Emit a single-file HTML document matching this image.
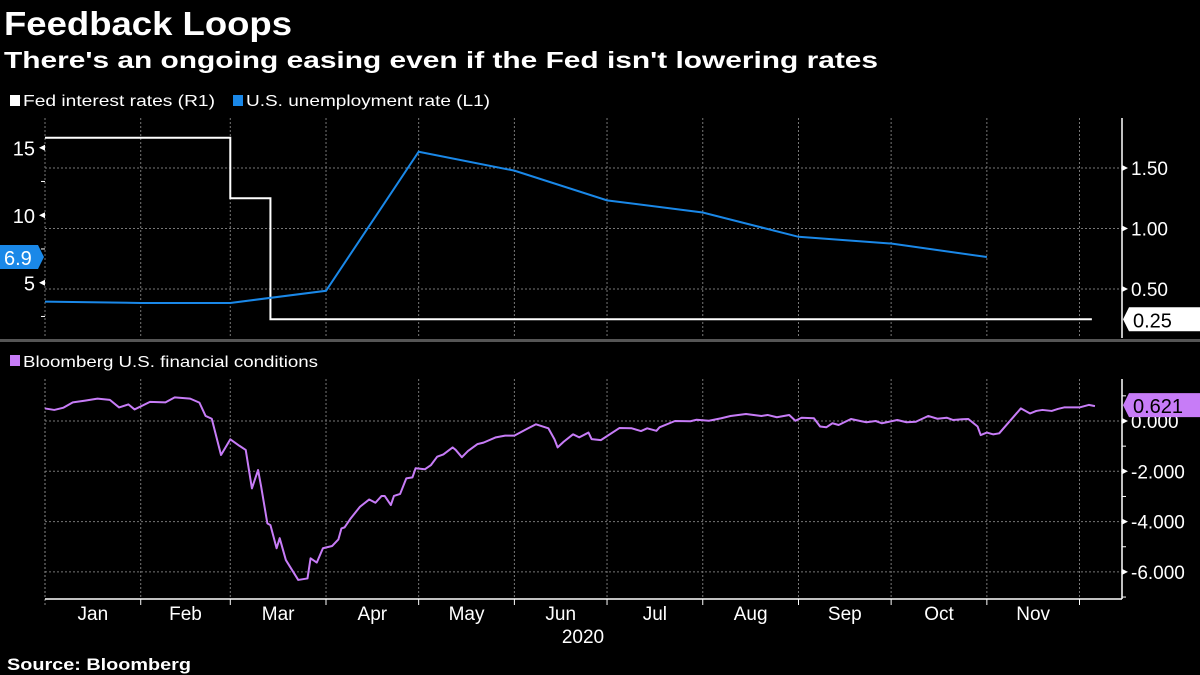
<!DOCTYPE html>
<html><head><meta charset="utf-8"><style>
html,body{margin:0;padding:0;background:#000;width:1200px;height:675px;overflow:hidden}
svg{display:block;font-family:"Liberation Sans",sans-serif}
</style></head><body>
<svg id="c" width="1200" height="675" viewBox="0 0 1200 675">
<text x="4" y="35" fill="#fff" font-size="33" font-weight="bold" textLength="288" lengthAdjust="spacingAndGlyphs">Feedback Loops</text>
<text x="4" y="68" fill="#fff" font-size="23" font-weight="bold" textLength="874" lengthAdjust="spacingAndGlyphs">There's an ongoing easing even if the Fed isn't lowering rates</text>
<rect x="10" y="95" width="10" height="11" fill="#fff"/>
<text x="23" y="106" fill="#fff" font-size="16" textLength="192" lengthAdjust="spacingAndGlyphs">Fed interest rates (R1)</text>
<rect x="233" y="95" width="10" height="11" fill="#1a88e8"/>
<text x="246" y="106" fill="#fff" font-size="16" textLength="244" lengthAdjust="spacingAndGlyphs">U.S. unemployment rate (L1)</text>
<rect x="10" y="355" width="10" height="11" fill="#c77cf7"/>
<text x="23" y="367" fill="#fff" font-size="16" textLength="295" lengthAdjust="spacingAndGlyphs">Bloomberg U.S. financial conditions</text>
<rect x="0" y="339" width="1200" height="3" fill="#555"/>
<text x="7" y="670" fill="#fff" font-size="17" font-weight="bold" textLength="184" lengthAdjust="spacingAndGlyphs">Source: Bloomberg</text>
<g id="g"></g>
</svg>
<script>
// Data
const months=["Jan","Feb","Mar","Apr","May","Jun","Jul","Aug","Sep","Oct","Nov"];
const monthStartDays=[0,31,60,91,121,152,182,213,244,274,305,335];
const fedDays=[0,60,60,73,73,339];
const fedValues=[1.75,1.75,1.25,1.25,0.25,0.25];
const unempDays=[0,31,60,91,121,152,182,213,244,274,305];
const unempValues=[3.6,3.5,3.5,4.4,14.7,13.3,11.1,10.2,8.4,7.9,6.9];
const fciDays=[0,3,6,9,13,17,21,24,27,29,34,39,42,47,50,52,54,57,60,63,65,67,69,70,72,73,75,76,78,82,85,86,88,90,93,95,96,97,99,102,105,107,109,110,112,113,115,117,119,120,123,125,127,129,132,133,135,137,140,142,146,149,152,156,159,163,165,166,168,171,173,176,177,
180,186,190,193,195,198,199,204,209,211,215,219,222,227,232,234,237,241,243,245,249,251,253,255,257,261,264,266,269,271,276,279,282,286,289,292,294,297,299,302,303,305,307,309,316,319,321,323,326,328,330,335,338,340];
const fciValues=[0.50,0.44,0.53,0.74,0.81,0.89,0.84,0.54,0.66,0.46,0.76,0.74,0.94,0.89,0.73,0.20,0.09,-1.35,-0.73,-0.99,-1.15,-2.68,-1.95,-2.61,-4.07,-4.14,-5.06,-4.66,-5.53,-6.32,-6.26,-5.46,-5.63,-5.06,-4.97,-4.71,-4.27,-4.23,-3.87,-3.41,-3.12,-3.25,-2.98,-2.98,-3.34,-2.98,-2.90,-2.28,-2.24,-1.88,-1.92,-1.75,-1.42,-1.33,-1.05,-1.15,-1.44,-1.19,-0.92,-0.86,-0.65,-0.58,-0.58,-0.32,-0.13,-0.29,-0.73,-1.05,-0.82,-0.53,-0.65,-0.46,-0.72,
-0.76,-0.28,-0.29,-0.40,-0.29,-0.39,-0.25,0.00,-0.01,0.05,0.01,0.11,0.20,0.28,0.20,0.24,0.15,0.24,0.01,0.13,0.11,-0.22,-0.25,-0.09,-0.16,0.08,0.00,-0.05,0.00,-0.09,0.04,-0.05,-0.03,0.20,0.09,0.13,0.04,0.07,0.08,-0.22,-0.56,-0.46,-0.53,-0.49,0.50,0.30,0.40,0.44,0.40,0.48,0.54,0.54,0.64,0.59];
const leftTicks=[5,10,15];
const rightTicks=[0.5,1.0,1.5];
const fciTicks=[0,-2,-4,-6];
const fciTickLabels=["0.000","-2.000","-4.000","-6.000"];
const lastUnemp="6.9", lastFed="0.25", lastFci="0.621";

// Axes
const X=d=>45+d*(1034.5/335);
const YL=v=>282.7-(v-5)*13.5;
const YR=v=>289-(v-0.5)*121;
const YB=v=>421-v*25.15;
const NS="http://www.w3.org/2000/svg";
const g=document.getElementById('g');
function mk(t,a,p){const e=document.createElementNS(NS,t);for(const k in a)e.setAttribute(k,a[k]);(p||g).appendChild(e);return e;}
monthStartDays.forEach((d,i)=>{
 if(i===0)return;
 const l1=mk('line',{x1:X(d),x2:X(d),y1:118,y2:338,stroke:'#777','stroke-dasharray':'2,2','stroke-width':1});
 
 
 const l2=mk('line',{x1:X(d),x2:X(d),y1:379,y2:598,stroke:'#777','stroke-dasharray':'2,2','stroke-width':1});
 
 
 const t=mk('line',{x1:X(d),x2:X(d),y1:599,y2:605,stroke:'#fff','stroke-width':1});
 
 
});
mk('line',{x1:45,x2:45,y1:118,y2:338,stroke:'#777','stroke-dasharray':'2,2'});
mk('line',{x1:45,x2:45,y1:379,y2:605,stroke:'#888','stroke-dasharray':'2,2'});
rightTicks.forEach(v=>{
 const l=mk('line',{x1:45,x2:1122,y1:YR(v),y2:YR(v),stroke:'#777','stroke-dasharray':'2,2'});
 
 
 mk('path',{d:`M1122,${YR(v)-3}L1128,${YR(v)}L1122,${YR(v)+3}Z`,fill:'#fff'});
 const t=mk('text',{x:1131,y:YR(v)+7,fill:'#fff','font-size':19});
 t.textContent=v.toFixed(2);
 
 
});
leftTicks.forEach(v=>{
 const t=mk('text',{x:35,y:YL(v)+8,fill:'#fff','font-size':20,'text-anchor':'end'});
 t.textContent=v;
 
 
 mk('path',{d:`M45,${YL(v)-3}L39,${YL(v)}L45,${YL(v)+3}Z`,fill:'#fff'});
});
[2.5,7.5,12.5].forEach(v=>mk('line',{x1:41,x2:45,y1:YL(v),y2:YL(v),stroke:'#fff'}));
mk('line',{x1:1122,x2:1122,y1:118,y2:338,stroke:'#fff','stroke-width':1.5});
fciTicks.forEach((v,i)=>{
 const l=mk('line',{x1:45,x2:1122,y1:YB(v),y2:YB(v),stroke:'#777','stroke-dasharray':'2,2'});
 
 
 mk('path',{d:`M1122,${YB(v)-3}L1128,${YB(v)}L1122,${YB(v)+3}Z`,fill:'#fff'});
 const t=mk('text',{x:1131,y:YB(v)+7,fill:'#fff','font-size':19});
 t.textContent=fciTickLabels[i];
 
 
});
[1,-1,-3,-5,-7].forEach(v=>mk('line',{x1:1122,x2:1126,y1:YB(v),y2:YB(v),stroke:'#fff'}));
mk('line',{x1:1122,x2:1122,y1:379,y2:599,stroke:'#fff','stroke-width':1.5});
mk('line',{x1:45,x2:1122,y1:599,y2:599,stroke:'#fff','stroke-width':1.5});
months.forEach((m,i)=>{
 const t=mk('text',{x:(X(monthStartDays[i])+X(monthStartDays[i+1]))/2,y:620,fill:'#fff','font-size':19,'text-anchor':'middle'});
 t.textContent=m;
 
 
});
const yr=mk('text',{x:583,y:643,fill:'#fff','font-size':19,'text-anchor':'middle'});
yr.textContent='2020';


const fed=mk('polyline',{points:fedDays.map((d,i)=>X(d)+','+YR(fedValues[i])).join(' '),fill:'none',stroke:'#fff','stroke-width':2});


const un=mk('polyline',{points:unempDays.map((d,i)=>X(d)+','+YL(unempValues[i])).join(' '),fill:'none',stroke:'#1a88e8','stroke-width':2});


const fc=mk('polyline',{points:fciDays.map((d,i)=>X(d)+','+YB(fciValues[i])).join(' '),fill:'none',stroke:'#c77cf7','stroke-width':2,'stroke-linejoin':'round'});


function tag(x0,x1,yc,fill,txt,col,left,name){
 const y=yc;
 const d=left?`M${x0},${y-12}L${x1-6},${y-12}L${x1},${y}L${x1-6},${y+12}L${x0},${y+12}Z`:`M${x0+6},${y-12}L${x1},${y-12}L${x1},${y+12}L${x0+6},${y+12}L${x0},${y}Z`;
 const p=mk('path',{d:d,fill:fill});
 
 
 const t=mk('text',{x:left?x0+4:x0+10,y:y+8,fill:col,'font-size':20});
 t.textContent=txt;
 
 
}
tag(0,44,YL(parseFloat(lastUnemp)),'#1a88e8',lastUnemp,'#fff',true,'unemployment-last');
tag(1123,1200,YR(parseFloat(lastFed)),'#fff',lastFed,'#000',false,'fed-last');
tag(1123,1200,YB(fciValues[fciValues.length-1])-1,'#c77cf7',lastFci,'#000',false,'fci-last');
</script>
</body></html>
